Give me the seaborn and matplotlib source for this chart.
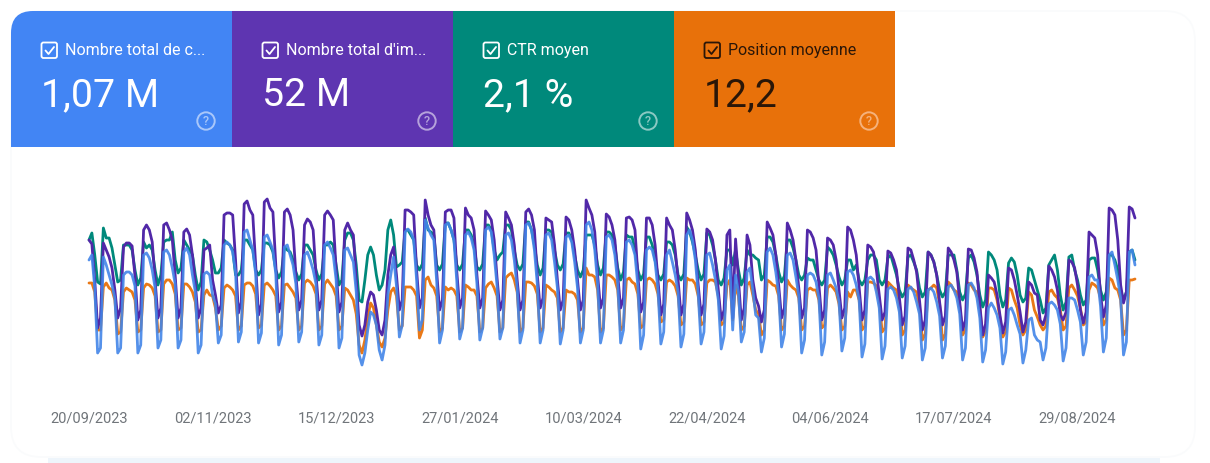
import matplotlib
matplotlib.use("Agg")
import matplotlib.pyplot as plt
from matplotlib.patches import Rectangle, Circle, PathPatch, FancyBboxPatch
from matplotlib.path import Path
import numpy as np
import pandas as pd
import seaborn as sns

card_labels = ["Nombre total de c...", "Nombre total d'im...", "CTR moyen", "Position moyenne"]
card_values = ["1,07 M", "52 M", "2,1 %", "12,2"]
card_colors = ["#4285f4", "#5e35b1", "#00897b", "#e8710a"]
tick_labels = ["20/09/2023", "02/11/2023", "15/12/2023", "27/01/2024", "10/03/2024",
               "22/04/2024", "04/06/2024", "17/07/2024", "29/08/2024"]

impressions = [
140,136,100,52,62,137,130,
123,112,90,62,72,133,137,
137,134,104,60,70,150,155,
150,138,100,62,72,155,157,
150,140,104,62,72,148,151,
145,125,96,62,72,130,132,
135,100,85,67,75,165,167,
167,165,120,67,78,176,179,
170,165,115,65,76,178,181,
172,168,115,68,78,168,171,
165,150,105,70,80,155,161,
158,150,105,70,80,165,169,
165,160,110,68,78,150,157,
150,145,100,55,44,55,78,
88,85,70,50,45,60,105,
125,133,105,70,80,170,170,
168,165,110,72,82,180,165,
155,150,108,70,80,168,170,
170,162,108,72,82,172,165,
162,150,105,72,82,169,165,
160,140,102,70,80,168,162,
155,135,100,70,80,168,171,
165,150,105,72,82,162,160,
158,135,100,70,80,163,160,
150,130,100,70,80,180,172,
165,148,105,72,82,166,163,
155,140,105,72,82,162,163,
160,150,105,68,78,162,162,
155,135,100,65,76,162,155,
150,130,100,65,76,167,160,
150,130,95,65,76,151,148,
140,120,90,60,70,145,150,
62,141,100,60,72,145,135,
100,82,74,58,70,158,152,
145,125,95,62,72,157,150,
140,120,92,62,72,150,148,
142,130,95,60,70,142,140,
135,120,90,62,72,153,150,
140,125,92,60,70,135,133,
128,110,85,60,68,129,127,
120,110,82,55,64,132,130,
120,108,80,50,60,128,125,
118,105,78,55,64,132,128,
120,108,78,50,60,131,130,
122,108,75,45,56,105,102,
98,85,65,47,58,112,110,
100,85,68,48,58,98,95,
87,85,60,55,65,114,110,
103,90,65,60,68,120,118,
112,95,70,57,68,148,145,
142,125,85,63,75,172,170,
165,140,95,77,88,173,171,
162]

clicks = [
120,125,92,27,32,123,115,
105,95,82,27,32,105,108,
108,105,94,27,35,125,127,
122,110,92,32,40,128,130,
125,112,96,32,40,128,132,
125,105,88,27,35,106,108,
105,85,76,37,45,135,138,
135,128,108,38,48,148,150,
140,130,106,37,47,143,145,
138,130,106,35,45,133,135,
125,115,96,38,48,125,128,
120,110,96,35,45,135,138,
132,125,100,32,42,130,132,
125,118,88,25,15,27,50,
68,65,55,30,20,35,85,
105,123,94,43,55,148,151,
148,140,100,50,60,160,152,
145,140,98,37,50,155,157,
150,140,98,41,52,145,148,
142,130,96,40,52,150,153,
148,125,94,41,52,145,147,
140,120,92,37,50,155,157,
150,130,96,37,50,145,147,
140,118,92,36,50,143,145,
138,118,92,37,50,155,158,
150,130,96,37,50,143,145,
140,125,96,37,50,138,140,
135,125,94,31,45,130,133,
130,118,90,36,48,125,130,
118,105,88,33,46,145,150,
140,120,86,36,48,125,127,
115,100,80,31,44,110,115,
50,105,88,38,48,108,112,
90,65,62,28,42,128,132,
125,108,86,33,46,125,127,
120,103,84,27,40,105,107,
105,98,82,25,38,105,107,
100,92,78,29,42,108,110,
105,95,80,23,36,101,103,
100,88,72,21,34,91,93,
90,82,68,22,34,91,93,
88,78,66,20,32,90,92,
88,78,64,22,34,93,95,
90,82,66,20,32,95,97,
92,82,62,18,30,72,77,
72,65,52,16,28,70,72,
65,55,46,17,30,60,62,
45,40,38,20,32,76,78,
75,70,56,19,32,82,82,
80,70,58,25,38,103,105,
100,100,74,28,42,125,128,
115,100,82,25,38,128,130,
115]

ctr = [
140,147,125,98,96,152,142,
142,132,115,98,100,135,135,
135,130,110,95,102,138,132,
135,130,110,95,105,138,140,
140,148,120,107,112,140,135,
130,125,105,90,98,140,138,
130,120,107,107,112,140,137,
135,130,105,105,110,140,140,
135,130,110,105,110,137,137,
135,128,110,102,108,133,130,
128,120,108,100,106,135,135,
130,125,110,100,106,135,135,
138,135,115,95,100,140,147,
147,140,115,80,78,100,125,
133,125,105,90,95,110,150,
160,145,113,115,118,150,150,
145,140,115,110,116,162,150,
148,145,115,110,116,157,157,
150,140,115,110,116,150,150,
145,135,113,110,116,155,155,
150,130,120,125,128,155,155,
150,130,115,110,116,158,158,
150,135,115,105,112,150,150,
148,130,115,110,116,147,147,
140,125,110,103,110,145,145,
145,135,115,105,112,148,148,
145,135,112,100,108,145,143,
143,130,110,100,106,143,143,
135,120,105,100,106,138,138,
135,125,105,100,106,153,148,
138,125,110,100,106,147,145,
135,120,100,95,102,130,130,
115,130,110,95,102,130,125,
125,122,120,100,105,143,143,
138,125,108,98,104,140,140,
132,120,105,100,105,122,120,
120,110,100,95,100,133,130,
125,115,103,95,100,120,120,
110,115,100,95,100,120,125,
125,120,100,95,100,122,125,
115,105,90,83,88,123,125,
118,110,92,83,88,128,125,
118,105,90,83,88,125,125,
125,110,88,80,86,122,125,
118,105,85,73,80,128,125,
120,110,85,73,80,117,122,
118,105,85,78,82,112,110,
100,90,80,67,72,115,120,
125,110,85,70,78,123,125,
110,100,85,75,80,120,122,
122,110,90,80,88,125,125,
120,110,90,80,88,128,130,
120]

position = [
97,97,88,50,50,93,97,
92,90,80,46,48,88,92,
90,88,80,48,50,92,96,
95,92,84,48,50,96,100,
100,96,86,50,52,96,96,
93,88,78,48,50,85,90,
85,84,72,50,54,92,95,
93,90,84,50,54,95,97,
97,94,86,52,55,95,97,
94,90,84,50,54,95,96,
92,88,82,50,54,97,100,
98,94,86,50,54,96,100,
96,92,84,50,54,92,90,
85,80,66,35,27,40,62,
77,72,55,38,33,42,70,
88,92,84,50,54,93,93,
93,90,84,42,50,100,103,
95,92,84,48,52,93,90,
92,90,84,48,52,95,93,
90,90,84,48,52,92,96,
98,92,84,48,52,102,105,
107,100,88,48,52,98,98,
97,94,86,48,52,95,93,
90,88,82,48,52,90,88,
88,86,80,48,52,112,105,
105,103,90,48,52,105,105,
103,100,90,50,54,100,102,
98,96,86,52,55,100,102,
100,96,86,58,60,98,100,
98,94,84,55,58,102,100,
100,96,84,55,58,97,100,
100,98,84,55,58,95,100,
60,95,84,50,54,95,98,
85,70,66,45,50,100,98,
95,94,84,50,54,100,95,
92,90,82,50,54,90,92,
90,90,80,52,55,92,95,
92,88,76,50,54,88,83,
90,90,80,50,54,98,98,
97,94,80,48,52,98,95,
92,90,76,45,50,95,92,
90,88,74,40,46,90,92,
95,92,76,40,46,98,95,
90,88,74,45,50,97,95,
90,88,72,43,48,92,92,
90,80,62,43,48,92,90,
80,72,55,45,50,88,85,
70,63,55,50,54,88,90,
85,82,70,50,54,92,95,
90,84,72,55,58,90,97,
95,92,82,55,60,102,100,
92,90,80,45,50,100,100,
101]

W, H = 1210, 463
plt.rcParams["font.family"] = ["Roboto", "DejaVu Sans"]
sns.set_style("white")
plt.rcParams["font.family"] = ["Roboto", "DejaVu Sans"]
fig = plt.figure(figsize=(W / 100, H / 100), dpi=100, facecolor="white")

# page decoration and metric cards, laid out in pixel coordinates
bg = fig.add_axes([0, 0, 1, 1], zorder=0)
bg.set_xlim(0, W); bg.set_ylim(H, 0); bg.axis("off")
bg.add_patch(Rectangle((48, 458), 1112, 6, fc="#eef5fb", ec="none"))
bg.add_patch(FancyBboxPatch((11, 11), 1184, 446, boxstyle="round,pad=0,rounding_size=30",
                            fc="white", ec="#fafbfc", lw=1.2))

x0, y0, cw, ch = 11, 11, 221, 136
for i, (lab, val, col) in enumerate(zip(card_labels, card_values, card_colors)):
    x = x0 + i * cw
    dark = i == 3
    fg = "#2a1608" if dark else "white"
    if i == 0:
        r = 22
        verts = [(x, y0 + ch), (x, y0 + r), (x, y0), (x + r, y0), (x + cw, y0), (x + cw, y0 + ch), (x, y0 + ch)]
        codes = [Path.MOVETO, Path.LINETO, Path.CURVE3, Path.CURVE3, Path.LINETO, Path.LINETO, Path.CLOSEPOLY]
        bg.add_patch(PathPatch(Path(verts, codes), fc=col, ec="none"))
    else:
        bg.add_patch(Rectangle((x, y0), cw, ch, fc=col, ec="none"))
    # checkbox
    bg.add_patch(FancyBboxPatch((x + 30.5, 42.5), 15.5, 15.5, boxstyle="round,pad=0,rounding_size=2",
                                fc="none", ec=fg, lw=1.3))
    bg.plot([x + 34.5, x + 37.5, x + 43], [50.5, 54, 47], color=fg, lw=1.3, solid_capstyle="round")
    bg.text(x + 54, 50.5, lab, color=fg, fontsize=11.5, va="center", ha="left")
    bg.text(x + 30, 96, val, color=fg, fontsize=28.3, va="center", ha="left")
    # help icon
    hc = "#f5b27c" if dark else "white"
    al = 1 if dark else 0.55
    bg.add_patch(Circle((x + 195, 121), 8.7, fc="none", ec=hc, lw=1.4, alpha=al))
    bg.text(x + 195, 121.3, "?", color=hc, alpha=al, fontsize=9, ha="center", va="center", weight="medium")

# chart
ax = fig.add_axes([89 / W, 1 - 380 / H, 1046 / W, 200 / H], zorder=1)
ax.patch.set_alpha(0)
dates = pd.date_range("2023-09-20", periods=len(clicks), freq="D")
df = pd.DataFrame({"date": dates, "Clics": clicks, "Impressions": impressions,
                   "CTR": ctr, "Position": position})
styles = [("Position", "#e8710a", 0.95), ("CTR", "#00897b", 1.0),
          ("Impressions", "#5128a8", 1.0), ("Clics", "#4285e8", 0.9)]
for name, col, al in styles:
    sns.lineplot(data=df, x="date", y=name, color=col, alpha=al, lw=2.0, ax=ax,
                 errorbar=None, estimator=None, solid_joinstyle="round")
ax.set_xlim(dates[0], dates[-1])
ax.set_ylim(0, 200)
ax.set_xlabel(""); ax.set_ylabel("")
ax.set_yticks([])
ticks = [dates[0] + pd.Timedelta(days=43 * i) for i in range(len(tick_labels))]
ax.set_xticks(ticks)
ax.set_xticklabels(tick_labels, fontsize=10.5, color="#70757a")
ax.tick_params(axis="x", length=0, pad=22.5)
sns.despine(ax=ax, left=True, bottom=True)
for l in ax.get_lines():
    l.set_clip_on(False)

fig.savefig("out.png", dpi=100)
